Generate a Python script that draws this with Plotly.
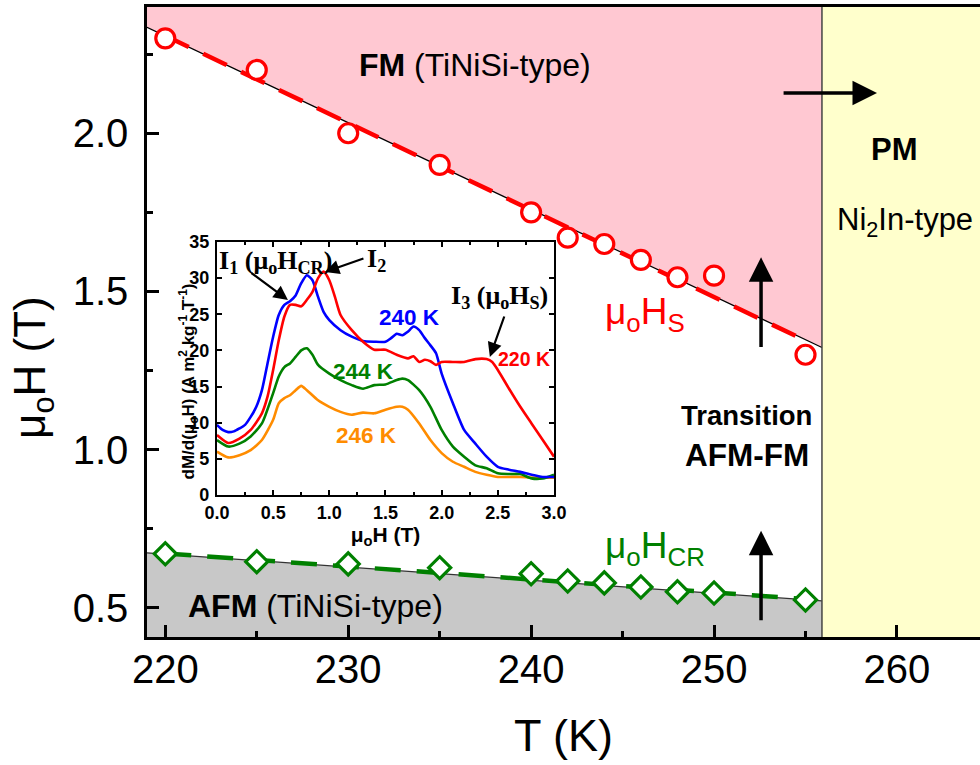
import plotly.graph_objects as go

# ---------------- main phase diagram data ----------------
T_hs = [220, 225, 230, 235, 240, 242, 244, 246, 248, 250, 255]
H_s = [2.30, 2.20, 2.00, 1.90, 1.75, 1.67, 1.65, 1.60, 1.545, 1.55, 1.30]
T_hcr = [220, 225, 230, 235, 240, 242, 244, 246, 248, 250, 255]
H_cr = [0.671, 0.646, 0.639, 0.627, 0.608, 0.585, 0.579, 0.566, 0.551, 0.547, 0.525]

# linear fits (dashed)
fit_T = [220, 255]
fit_hs = [2.308, 1.345]
fit_hcr = [0.672, 0.528]

# phase boundaries
bound_T = [219.0, 255.9]
fm_bound = [2.335, 1.323]
afm_bound = [0.674, 0.522]
pm_T = 255.9

x_range = [219.0, 264.54]
y_range = [0.408, 2.399]
x_ticks = [220, 230, 240, 250, 260]
y_ticks = [0.5, 1.0, 1.5, 2.0]

# ---------------- inset data: dM/d(mu0H) vs mu0H ----------------
h_blue = [0, 0.05, 0.1, 0.15, 0.2, 0.25, 0.3, 0.35, 0.4, 0.45, 0.5, 0.55, 0.6, 0.65, 0.7, 0.75, 0.8,
          0.85, 0.9, 0.95, 1.0, 1.1, 1.2, 1.3, 1.4, 1.5, 1.55, 1.6, 1.65, 1.7, 1.75, 1.8, 1.85, 1.9,
          1.95, 2.0, 2.1, 2.2, 2.3, 2.4, 2.5, 2.6, 2.7, 2.8, 2.9, 3.0]
m_240 = [9.7, 9.0, 8.7, 8.8, 9.2, 9.7, 10.8, 12.2, 14.5, 18.2, 21.9, 24.9, 26.3, 26.8, 27.6, 29.3, 30.4,
         29.7, 27.4, 25.3, 24.2, 22.8, 21.9, 21.3, 21.2, 21.2, 21.7, 22.3, 22.1, 22.6, 23.3, 22.8, 21.7, 20.7,
         19.6, 16.8, 12.7, 9.0, 7.1, 5.3, 3.9, 3.5, 3.2, 2.8, 2.5, 2.5]

h_red = [0, 0.1, 0.2, 0.3, 0.4, 0.45, 0.5, 0.55, 0.6, 0.65, 0.7, 0.75, 0.8, 0.85, 0.9, 0.95, 1.0,
         1.05, 1.1, 1.2, 1.3, 1.4, 1.5, 1.6, 1.7, 1.75, 1.8, 1.85, 1.9, 1.95, 2.0, 2.1, 2.2, 2.3, 2.4,
         2.45, 2.5, 2.6, 2.7, 2.8, 2.9, 3.0]
m_220 = [8.3, 7.2, 7.8, 9.0, 11.3, 13.6, 17.3, 21.4, 24.7, 26.3, 26.3, 26.1, 27.0, 28.1, 30.0, 30.9, 29.7,
         27.4, 24.9, 22.8, 21.2, 20.1, 20.1, 19.4, 18.9, 19.2, 18.4, 18.7, 18.5, 18.0, 18.4, 18.4, 18.4, 18.8, 18.8,
         18.4, 17.3, 14.7, 12.2, 9.9, 7.6, 5.3]

h_green = [0, 0.1, 0.2, 0.3, 0.4, 0.5, 0.55, 0.6, 0.65, 0.7, 0.75, 0.8, 0.85, 0.9, 1.0, 1.1, 1.2, 1.3,
           1.4, 1.5, 1.6, 1.65, 1.7, 1.8, 1.9, 2.0, 2.1, 2.2, 2.3, 2.4, 2.5, 2.6, 2.7, 2.8, 2.9, 3.0]
m_244 = [7.6, 6.7, 7.1, 8.1, 9.9, 14.1, 16.4, 17.7, 18.2, 19.1, 20.0, 20.3, 19.4, 18.0, 16.8, 15.9, 15.2, 14.7,
         15.2, 15.3, 15.9, 16.1, 15.9, 14.5, 12.2, 9.0, 6.7, 5.3, 4.1, 3.7, 3.0, 2.9, 2.9, 2.3, 2.3, 2.8]

h_orange = [0, 0.1, 0.2, 0.3, 0.4, 0.5, 0.55, 0.6, 0.65, 0.7, 0.75, 0.8, 0.9, 1.0, 1.1, 1.2, 1.3, 1.4,
            1.5, 1.6, 1.65, 1.7, 1.8, 1.9, 2.0, 2.1, 2.2, 2.3, 2.4, 2.5, 2.6, 2.7, 2.8, 2.9, 3.0]
m_246 = [6.0, 5.2, 5.5, 6.2, 7.6, 10.4, 12.7, 13.4, 13.8, 14.5, 15.1, 14.5, 13.1, 12.2, 11.5, 11.1, 11.4, 11.3,
         11.8, 12.2, 12.2, 11.8, 9.9, 7.6, 5.8, 4.6, 3.9, 3.2, 2.8, 2.5, 2.5, 2.5, 2.4, 2.4, 2.4]

inset_x_ticks = [0.0, 0.5, 1.0, 1.5, 2.0, 2.5, 3.0]
inset_y_ticks = [0, 5, 10, 15, 20, 25, 30, 35]

RED = "#FF0000"
GREEN = "#008000"
BLUE = "#0000FF"
ORANGE = "#FF8C00"
PINK = "#FFC8D2"
GRAY = "#C8C8C8"
YELLOW = "#FFFFCC"
SANS = "Liberation Sans"
SERIF = "Liberation Serif"

fig = go.Figure()

# phase regions
fig.add_trace(go.Scatter(
    x=[bound_T[0], pm_T, bound_T[1], bound_T[0]],
    y=[y_range[1], y_range[1], fm_bound[1], fm_bound[0]],
    fill="toself", fillcolor=PINK, mode="none", hoverinfo="skip"))
fig.add_trace(go.Scatter(
    x=[bound_T[0], bound_T[1], pm_T, bound_T[0]],
    y=[afm_bound[0], afm_bound[1], y_range[0], y_range[0]],
    fill="toself", fillcolor=GRAY, mode="none", hoverinfo="skip"))
fig.add_trace(go.Scatter(
    x=[pm_T, x_range[1], x_range[1], pm_T],
    y=[y_range[0], y_range[0], y_range[1], y_range[1]],
    fill="toself", fillcolor=YELLOW, mode="none", hoverinfo="skip"))

# thin boundary lines
fig.add_trace(go.Scatter(x=bound_T, y=fm_bound, mode="lines",
                         line=dict(color="black", width=1.2), hoverinfo="skip"))
fig.add_trace(go.Scatter(x=bound_T, y=afm_bound, mode="lines",
                         line=dict(color="#333333", width=1.2), hoverinfo="skip"))
fig.add_trace(go.Scatter(x=[pm_T, pm_T], y=y_range, mode="lines",
                         line=dict(color="#444444", width=1.5), hoverinfo="skip"))

# dashed fits
fig.add_trace(go.Scatter(x=fit_T, y=fit_hs, mode="lines",
                         line=dict(color=RED, width=4.5, dash="26px,16px")))
fig.add_trace(go.Scatter(x=fit_T, y=fit_hcr, mode="lines",
                         line=dict(color=GREEN, width=4.5, dash="26px,16px")))

# data points
fig.add_trace(go.Scatter(x=T_hs, y=H_s, mode="markers",
                         marker=dict(symbol="circle", size=19, color="white",
                                     line=dict(color=RED, width=3.2))))
fig.add_trace(go.Scatter(x=T_hcr, y=H_cr, mode="markers",
                         marker=dict(symbol="diamond", size=17, color="white",
                                     line=dict(color=GREEN, width=3.2))))

# inset curves
for hx, my, col in [(h_orange, m_246, ORANGE), (h_green, m_244, GREEN),
                    (h_blue, m_240, BLUE), (h_red, m_220, RED)]:
    fig.add_trace(go.Scatter(x=hx, y=my, mode="lines", xaxis="x2", yaxis="y2",
                             line=dict(color=col, width=2.6, shape="spline", smoothing=0.6)))

ann = []


def txt(x, y, text, size, color="black", xref="x", yref="y", xanchor="center", family=SANS, angle=0):
    ann.append(dict(x=x, y=y, xref=xref, yref=yref, text=text, showarrow=False,
                    xanchor=xanchor, yanchor="middle", textangle=angle,
                    font=dict(family=family, size=size, color=color)))


def arrow(x, y, ax, ay, xref="x", yref="y", width=3.5, size=1.0):
    ann.append(dict(x=x, y=y, ax=ax, ay=ay, xref=xref, yref=yref, axref=xref, ayref=yref,
                    text="", showarrow=True, arrowhead=2, arrowsize=size, arrowwidth=width,
                    arrowcolor="black", standoff=0, startstandoff=0))


# main texts
txt(236.94, 2.215, "<b>FM</b> (TiNiSi-type)", 32)
txt(259.89, 1.949, "<b>PM</b>", 31)
txt(260.44, 1.718, "Ni<sub>2</sub>In-type", 31)
txt(246.23, 1.430, "μ<sub>o</sub>H<sub>S</sub>", 37, RED)
txt(255.45, 1.108, "<b>Transition</b>", 27.5, xanchor="right")
txt(255.30, 0.984, "<b>AFM-FM</b>", 31.5, xanchor="right")
txt(246.78, 0.690, "μ<sub>o</sub>H<sub>CR</sub>", 37, GREEN)
txt(228.2, 0.506, "<b>AFM</b> (TiNiSi-type)", 32)

# main arrows
arrow(258.91, 2.127, 253.72, 2.127, width=3.5, size=1.4)
arrow(252.57, 1.608, 252.57, 1.320, width=3.5, size=1.4)
arrow(252.57, 0.744, 252.57, 0.456, width=3.5, size=1.4)

# inset texts
txt(1.717, 24.5, "<b>240 K</b>", 22.5, BLUE, "x2", "y2")
txt(1.308, 17.15, "<b>244 K</b>", 22.5, GREEN, "x2", "y2")
txt(1.335, 8.3, "<b>246 K</b>", 22.5, ORANGE, "x2", "y2")
txt(2.731, 18.8, "<b>220 K</b>", 19.5, RED, "x2", "y2")
txt(0.525, 32.2, "<b>I<sub>1</sub> (μ<sub>o</sub>H<sub>CR</sub>)</b>", 26, "black", "x2", "y2", family=SERIF)
txt(1.424, 32.5, "<b>I<sub>2</sub></b>", 26, "black", "x2", "y2", family=SERIF)
txt(2.518, 27.4, "<b>I<sub>3</sub> (μ<sub>o</sub>H<sub>S</sub>)</b>", 26, "black", "x2", "y2", family=SERIF)

arrow(0.632, 26.97, 0.294, 30.85, "x2", "y2", width=2.2, size=1.3)
arrow(0.961, 30.85, 1.317, 32.8, "x2", "y2", width=2.2, size=1.3)
arrow(2.429, 19.1, 2.562, 24.9, "x2", "y2", width=2.2, size=1.3)

# axis titles as annotations (paper coordinates)
txt(-0.1369, 0.4286, "μ<sub>o</sub>H (T)", 44, xref="paper", yref="paper", angle=-90)
txt(0.0500, 0.405, "<b>dM/d(μ<sub>o</sub>H) (A m<sup>2</sup> kg<sup>-1</sup> T<sup>-1</sup>)</b>", 17,
    xref="paper", yref="paper", angle=-90)

fig.update_layout(
    width=980, height=765,
    autosize=False,
    margin=dict(l=147, r=0, t=7, b=128, pad=0),
    paper_bgcolor="white", plot_bgcolor="white",
    showlegend=False,
    annotations=ann,
    font=dict(family=SANS, color="black"),
    xaxis=dict(range=x_range, tickvals=x_ticks, ticks="inside", ticklen=12, tickwidth=2.5,
               tickcolor="black", showline=True, linewidth=2.5, linecolor="black", mirror=True,
               showgrid=False, zeroline=False, tickfont=dict(size=40, family=SANS), automargin=False,
               ticklabelstandoff=-5,
               minor=dict(dtick=5, ticks="inside", ticklen=6, tickwidth=2.5, tickcolor="black", showgrid=False),
               title=dict(text="T (K)", font=dict(size=45, family=SANS), standoff=30),
               domain=[0, 1]),
    yaxis=dict(range=y_range, tickvals=y_ticks, ticks="inside", ticklen=12, tickwidth=2.5,
               tickcolor="black", showline=True, linewidth=2.5, linecolor="black", mirror=False,
               showgrid=False, zeroline=False, tickfont=dict(size=40, family=SANS), tickformat=".1f",
               automargin=False,
               minor=dict(dtick=0.25, tick0=0.5, ticks="inside", ticklen=6, tickwidth=2.5, tickcolor="black",
                          showgrid=False),
               ticklabelstandoff=8, domain=[0, 1]),
    xaxis2=dict(domain=[0.084, 0.4886], anchor="y2", range=[0, 3], tickvals=inset_x_ticks,
                ticktext=["<b>%.1f</b>" % v for v in inset_x_ticks],
                ticks="inside", ticklen=5, tickwidth=2, tickcolor="black",
                showline=True, linewidth=2.2, linecolor="black", mirror="allticks",
                showgrid=False, zeroline=False, automargin=False,
                tickfont=dict(size=18, family=SANS),
                minor=dict(dtick=0.25, ticks="inside", ticklen=3, tickwidth=2, tickcolor="black"),
                title=dict(text="<b>μ<sub>o</sub>H (T)</b>", font=dict(size=21, family=SANS), standoff=2)),
    yaxis2=dict(domain=[0.2254, 0.627], anchor="x2", range=[0, 35], tickvals=inset_y_ticks,
                ticktext=["<b>%d</b>" % v for v in inset_y_ticks],
                ticks="inside", ticklen=5, tickwidth=2, tickcolor="black",
                showline=True, linewidth=2.2, linecolor="black", mirror="allticks",
                showgrid=False, zeroline=False, automargin=False,
                tickfont=dict(size=18, family=SANS), ticklabelstandoff=2),
)

fig.write_html("out.html", config={"responsive": False})
